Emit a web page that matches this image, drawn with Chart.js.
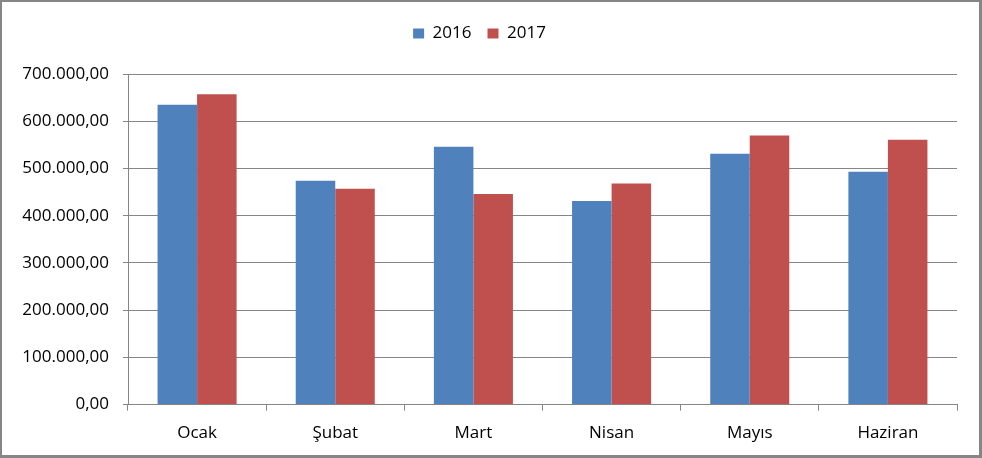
<!DOCTYPE html>
<html>
<head>
<meta charset="utf-8">
<script src="https://cdn.jsdelivr.net/npm/chart.js@4.4.1/dist/chart.umd.min.js"></script>
<style>
  html, body { margin: 0; padding: 0; background: #fff; }
  .frame {
    width: 982px; height: 458px; box-sizing: border-box;
    border-style: solid; border-color: #868686;
    border-width: 2px 3px 3px 2px;
    background: #fff;
  }
  .wrap { position: relative; width: 977px; height: 453px; }
</style>
</head>
<body>
<div class="frame"><div class="wrap"><canvas class="main-canvas"></canvas></div></div>
<script>
const months = ["Ocak", "Şubat", "Mart", "Nisan", "Mayıs", "Haziran"];
const values2016 = [635000, 474000, 546000, 431000, 531000, 493000];
const values2017 = [657000, 457000, 446000, 468000, 570000, 561000];
const seriesNames = ["2016", "2017"];

const FONT = "'Open Sans', 'DejaVu Sans', sans-serif";
const GRID = "#868686";

function trNumber(v) {
  const s = Math.round(v).toString().replace(/\B(?=(\d{3})+(?!\d))/g, ".");
  return s + ",00";
}

// extra room under the legend
const legendSpacer = {
  id: "legendSpacer",
  beforeInit(chart) {
    const origFit = chart.legend.fit;
    chart.legend.fit = function () {
      origFit.bind(chart.legend)();
      this.height += 22;
    };
  },
};

const ctx = document.querySelector(".main-canvas").getContext("2d");

new Chart(ctx, {
  type: "bar",
  data: {
    labels: months,
    datasets: [
      { label: seriesNames[0], data: values2016, backgroundColor: "#4F81BD" },
      { label: seriesNames[1], data: values2017, backgroundColor: "#C0504D" },
    ],
  },
  options: {
    responsive: true,
    maintainAspectRatio: false,
    animation: false,
    categoryPercentage: 0.572,
    barPercentage: 1,
    layout: { padding: { top: 7, right: 22, bottom: 0, left: 0 } },
    plugins: {
      legend: {
        display: true,
        position: "top",
        labels: {
          color: "#000",
          boxWidth: 11,
          boxHeight: 10,
          padding: 16,
          font: { size: 17, family: FONT },
        },
      },
      tooltip: { enabled: false },
    },
    scales: {
      x: {
        ticks: {
          color: "#000",
          padding: 12,
          font: { size: 17, family: FONT },
        },
        grid: {
          color: GRID,
          drawOnChartArea: false,
          drawTicks: true,
          tickLength: 6,
        },
        border: { color: GRID, width: 1 },
      },
      y: {
        min: 0,
        max: 700000,
        ticks: {
          stepSize: 100000,
          color: "#000",
          padding: 14,
          font: { size: 17, family: FONT },
          callback: function (value) {
            return trNumber(value);
          },
        },
        grid: {
          color: GRID,
          drawTicks: true,
          tickLength: 5,
        },
        border: { color: GRID, width: 1 },
        afterFit: function (scale) {
          scale.width = 126;
        },
      },
    },
  },
  plugins: [legendSpacer],
});
</script>
</body>
</html>
